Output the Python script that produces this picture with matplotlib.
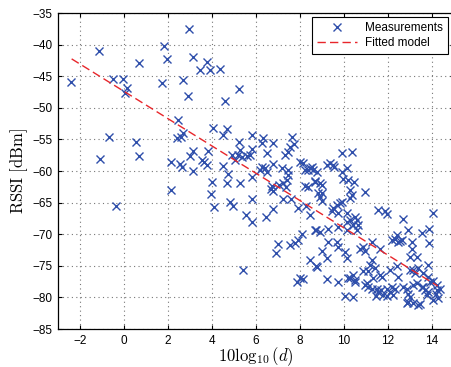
"""
RSSI versus distance: measurements and fitted log-distance model.
"""

import matplotlib
matplotlib.use("Agg")
import matplotlib.pyplot as plt
import numpy as np

dist_db = [
    -2.40, -1.14, -1.09, -0.68, -0.51, -0.06, 0.15, 0.03, -0.36, 0.55,
    0.70, 0.70, 1.71, 1.83, 1.97,
    2.97, 3.12, 2.70, 2.92, 3.45, 2.44, 2.39, 2.58, 2.70, 2.12,
    2.55, 2.62, 3.00, 3.15, 2.14, 3.12, 3.53, 3.64, 3.83, 3.76,
    3.79, 3.91, 4.36, 5.23, 4.59, 4.06, 4.70, 4.50, 5.80, 5.24,
    5.27, 5.20, 5.35, 4.90, 5.05, 4.51, 5.73, 5.58, 5.80, 3.99,
    4.74, 4.67, 5.27, 5.80, 3.95, 4.82, 4.94, 4.08, 5.83, 5.55,
    5.83, 5.39,
    6.33, 6.28, 6.75, 7.62, 7.55, 7.72, 7.47, 7.32, 6.49, 8.00,
    8.12, 8.45, 6.26, 6.18, 6.41, 6.52, 6.79, 7.17, 7.47, 7.47,
    7.39, 8.23, 8.38, 8.61, 8.76, 6.71, 6.79, 6.67, 7.06, 7.24,
    7.35, 7.21, 7.58, 8.23, 8.38, 8.70, 8.83, 7.92, 8.27, 8.45,
    6.76, 6.45, 8.71, 8.08, 7.90, 7.77, 7.55, 7.02, 6.93, 8.45,
    8.73, 7.85, 8.00, 8.15,
    8.53, 9.21, 9.36, 9.51, 9.89, 10.35, 10.15, 8.68, 8.91, 8.98,
    8.98, 8.91, 8.98, 9.97, 10.20, 10.45, 10.27, 10.35, 10.27, 10.95,
    9.89, 9.56, 9.89, 9.51, 9.67, 9.82, 9.44, 9.74, 10.12, 10.27,
    10.50, 10.58, 10.65, 10.42, 10.12, 10.58, 10.12, 8.68, 8.91, 9.29,
    9.74, 9.29, 8.98, 9.21, 8.76, 9.67, 9.74, 10.05, 10.12, 9.21,
    9.74, 10.42, 10.05,
    10.73, 10.88, 10.95, 11.26, 11.64, 11.26, 11.41, 11.18, 11.64, 11.71,
    12.09, 10.42, 10.27, 10.50, 10.88, 11.03, 11.11, 11.26, 11.48, 11.56,
    11.79, 11.94, 12.17, 12.32, 12.47, 12.39, 11.11, 11.33, 11.56, 11.86,
    11.94, 12.66, 12.62, 12.47, 12.32, 12.17, 12.39, 11.94, 12.24, 12.55,
    12.09, 10.20, 10.50, 10.95, 11.45, 11.70,
    14.06, 12.92, 13.08, 13.00, 13.30, 13.53, 13.88, 13.88, 13.15, 13.38,
    13.61, 13.83, 14.06, 14.21, 14.21, 14.06, 12.70, 12.85, 12.92, 13.00,
    12.85, 13.15, 13.45, 13.15, 13.30, 13.53, 13.68, 13.83, 13.08, 13.23,
    13.83, 13.90, 13.00, 12.92, 13.38, 13.76, 14.20, 14.29, 14.36, 13.61,
]
rssi_dbm = [
    -45.9, -41.0, -58.1, -54.6, -45.4, -45.4, -46.8, -47.7, -65.6, -55.4,
    -57.7, -42.9, -46.1, -40.3, -42.3,
    -37.6, -42.0, -45.6, -48.1, -44.0, -51.9, -54.7, -54.6, -54.0, -58.6,
    -58.9, -59.3, -57.7, -56.8, -63.0, -60.0, -58.3, -58.6, -56.9, -59.1,
    -42.7, -44.0, -43.8, -47.1, -49.0, -53.2, -53.3, -54.3, -54.3, -55.4,
    -56.7, -57.4, -57.8, -57.5, -58.2, -59.2, -57.5, -57.7, -56.5, -61.7,
    -60.5, -61.9, -61.9, -60.9, -63.6, -64.9, -65.5, -65.7, -64.4, -67.0,
    -68.1, -75.6,
    -54.7, -55.5, -55.6, -54.6, -56.2, -55.8, -57.0, -57.5, -57.2, -58.6,
    -58.8, -59.5, -59.3, -59.8, -59.5, -60.1, -58.9, -59.6, -59.9, -60.7,
    -61.5, -59.8, -59.8, -59.8, -60.1, -62.4, -63.2, -62.9, -62.2, -61.9,
    -62.5, -64.5, -64.4, -62.3, -62.6, -61.6, -63.5, -65.8, -65.6, -67.0,
    -66.0, -67.3, -69.3, -69.9, -70.9, -71.4, -71.7, -71.5, -73.0, -74.1,
    -75.1, -77.5, -77.0, -77.1,
    -59.3, -59.1, -58.8, -59.1, -57.2, -57.0, -59.6, -61.7, -61.9, -62.2,
    -63.5, -64.1, -64.8, -61.2, -61.4, -61.7, -63.0, -63.8, -64.3, -63.3,
    -60.1, -59.3, -64.9, -65.9, -65.4, -65.1, -66.4, -66.7, -66.7, -67.8,
    -67.2, -67.8, -68.5, -68.5, -68.0, -69.3, -69.3, -69.3, -69.6, -69.2,
    -68.8, -71.2, -72.7, -73.8, -75.2, -71.2, -72.0, -72.8, -73.8, -77.1,
    -77.5, -79.9, -79.7,
    -72.3, -72.1, -72.6, -71.2, -72.3, -74.1, -75.4, -74.9, -76.5, -76.8,
    -75.7, -76.5, -77.0, -77.6, -75.9, -77.8, -78.3, -78.6, -78.6, -79.1,
    -79.6, -78.6, -78.3, -78.6, -76.7, -75.1, -75.9, -77.0, -66.1, -66.4,
    -66.8, -67.6, -70.9, -71.3, -70.8, -70.9, -70.1, -79.8, -79.6, -71.0,
    -79.1, -76.9, -77.2, -78.0, -79.8, -78.9,
    -66.6, -69.3, -71.2, -73.6, -73.6, -69.8, -69.1, -71.4, -75.6, -75.4,
    -76.2, -76.7, -77.4, -78.0, -78.9, -80.4, -78.3, -78.6, -79.4, -80.0,
    -80.9, -80.9, -81.0, -78.0, -77.8, -78.3, -78.8, -79.1, -72.3, -76.2,
    -74.9, -77.5, -75.7, -80.7, -81.2, -79.6, -79.4, -80.1, -78.6, -78.3,
]

# Fitted model: RSSI = A - n * 10log10(d)
fit_A = -47.4
fit_n = 2.16
fit_range = [-2.38, 14.26]

x_ticks = [-2, 0, 2, 4, 6, 8, 10, 12, 14]
y_ticks = [-85, -80, -75, -70, -65, -60, -55, -50, -45, -40, -35]

plt.rcParams['mathtext.fontset'] = 'cm'
plt.rcParams['font.family'] = ['Liberation Sans', 'DejaVu Sans']

fig = plt.figure(figsize=(4.51, 3.67), dpi=100)
# right edge goes past the figure (the original is cropped there)
ax = fig.add_axes([58 / 451, 38 / 367, (454 - 58) / 451, (329 - 13) / 367])

ax.plot(dist_db, rssi_dbm, 'x', color='#2f4fab', markersize=5.5,
        markeredgewidth=1.0, label='Measurements', zorder=2)

xf = np.array(fit_range)
ax.plot(xf, fit_A - fit_n * xf, '--', color='#e8262b', linewidth=1.0,
        dashes=(6, 3), label='Fitted model', zorder=3)

ax.set_xlim(-3, 15)
ax.set_ylim(-85, -35)
ax.set_xticks(x_ticks)
ax.set_yticks(y_ticks)
ax.set_xticklabels([str(t).replace('-', '\u2212') for t in x_ticks])
ax.set_yticklabels([str(t).replace('-', '\u2212') for t in y_ticks])
ax.tick_params(direction='in', top=True, right=True, length=3,
               labelsize=8.5, width=0.8, pad=4)
ax.grid(True, linestyle=(0, (1, 3)), color='#777777', linewidth=0.8)
for s in ax.spines.values():
    s.set_linewidth(0.9)

ax.set_xlabel(r'$10\log_{10}(d)$', fontsize=12, labelpad=-1)
ax.set_ylabel(r'$\mathrm{RSSI\ [dBm]}$', fontsize=12, labelpad=2)

leg = ax.legend(loc='upper right', bbox_to_anchor=(448 / 451, 1 - 17 / 367),
                bbox_transform=fig.transFigure, fontsize=8.5, fancybox=False,
                framealpha=1, edgecolor='black', borderpad=0.4,
                labelspacing=0.3, handlelength=3.4, handletextpad=0.7,
                borderaxespad=0)
leg.get_frame().set_linewidth(0.8)

fig.savefig('out.png', dpi=100)
